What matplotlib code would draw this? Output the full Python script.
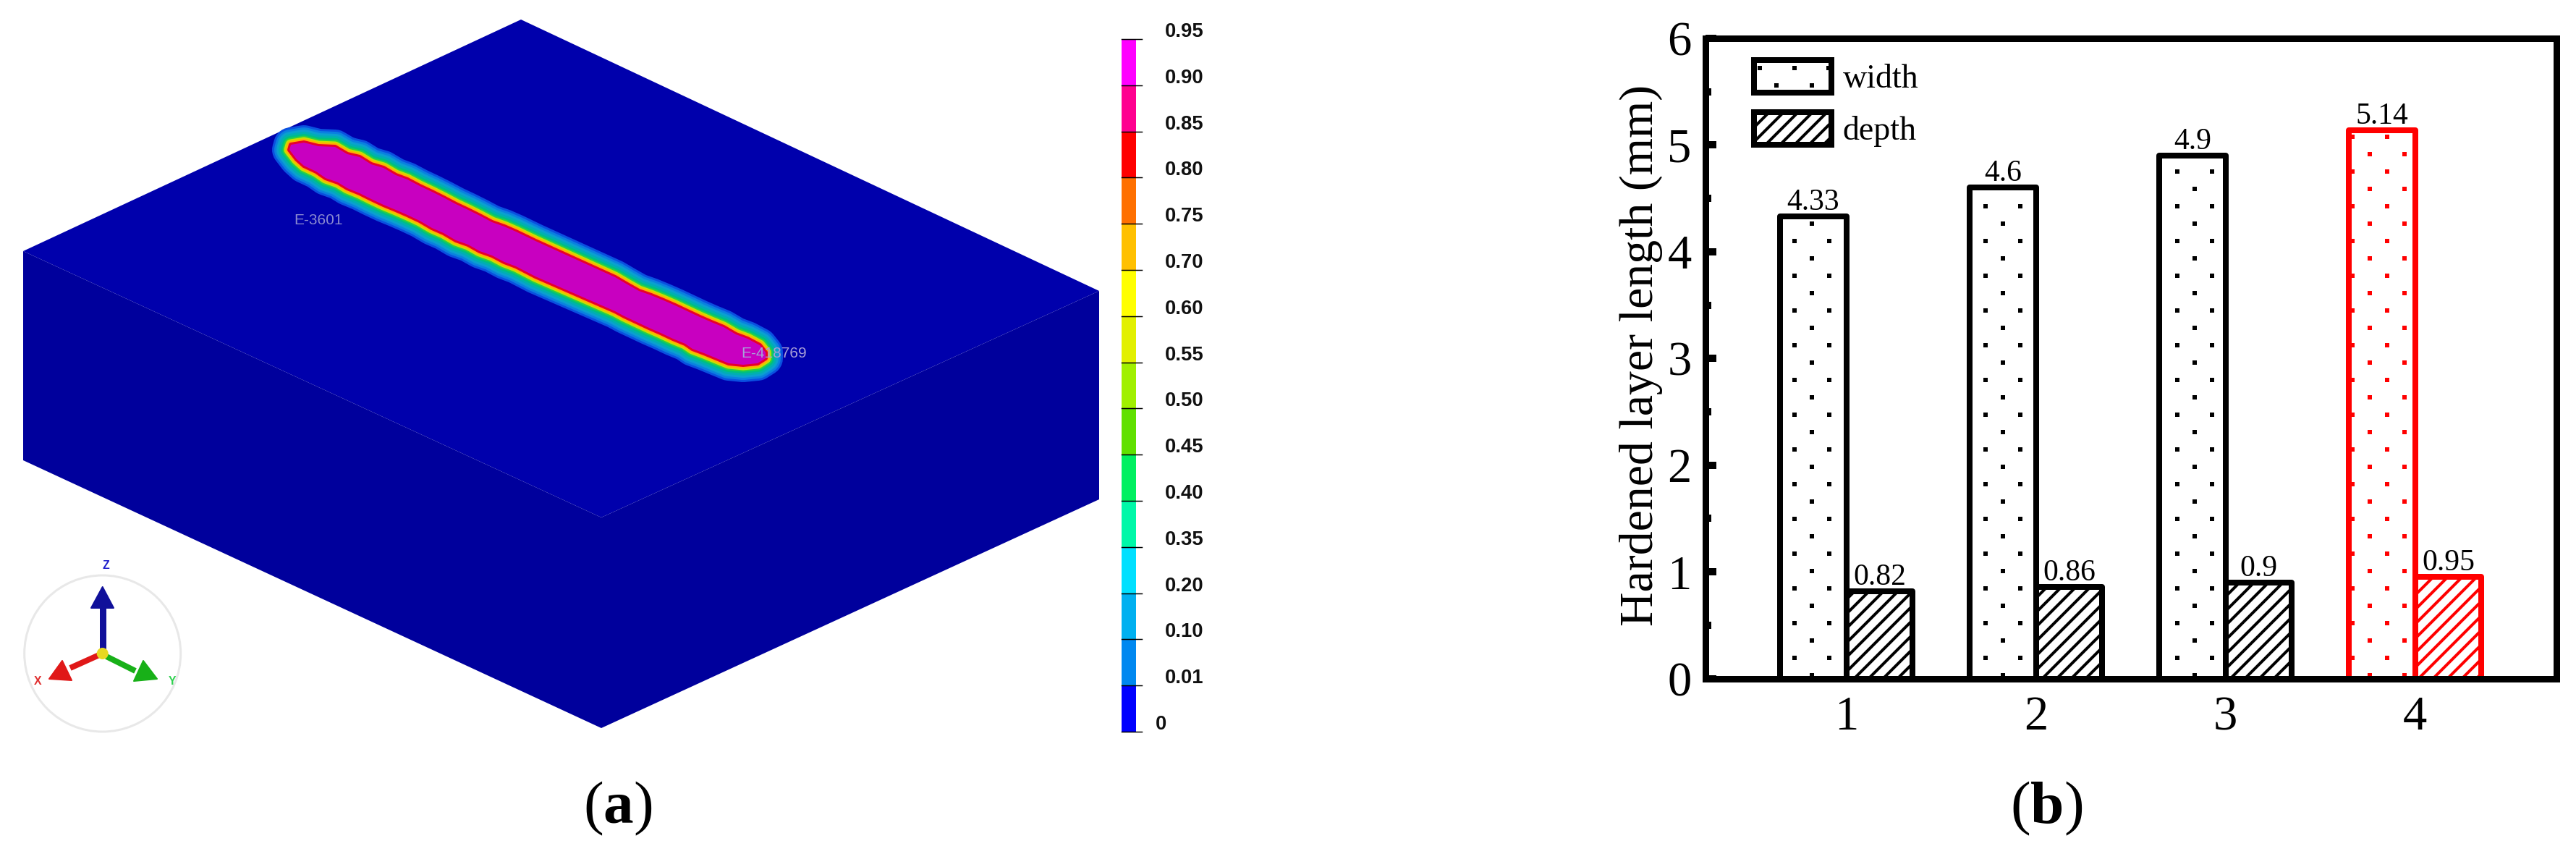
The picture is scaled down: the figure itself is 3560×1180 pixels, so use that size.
import matplotlib
matplotlib.use("Agg")
import matplotlib.pyplot as plt
import numpy as np
from matplotlib.patches import Patch, Polygon, Circle

DPI = 120
W, H = 3560, 1180
PT = 72.0 / DPI  # one pixel in points

plt.rcParams['font.family'] = ['Liberation Serif', 'DejaVu Serif']
plt.rcParams['mathtext.fontset'] = 'custom'
plt.rcParams['mathtext.rm'] = 'Liberation Serif'
plt.rcParams['mathtext.bf'] = 'Liberation Serif:bold'
plt.rcParams['hatch.linewidth'] = 4 * PT

# panel b data
groups = [1, 2, 3, 4]
width_vals = [4.33, 4.6, 4.9, 5.14]
depth_vals = [0.82, 0.86, 0.9, 0.95]
width_text = ['4.33', '4.6', '4.9', '5.14']
depth_text = ['0.82', '0.86', '0.9', '0.95']
bar_colors = ['black', 'black', 'black', '#ff0000']

# panel a data: contour legend, top to bottom
contour_labels = ['0.95', '0.90', '0.85', '0.80', '0.75', '0.70', '0.60', '0.55',
                  '0.50', '0.45', '0.40', '0.35', '0.20', '0.10', '0.01', '0']
contour_colors = ['#ff00ff', '#ff0090', '#ff0000', '#ff7000', '#ffc000', '#ffff00',
                  '#e2f000', '#a0f000', '#60e000', '#00f060', '#00f8a8', '#00e0ff',
                  '#00b0f0', '#0088f0', '#0000ff']

# block faces, picture pixels
top_face = [(720, 27), (32, 347), (831, 715), (1519, 402)]
left_face = [(32, 347), (831, 715), (831, 1006), (32, 636)]
right_face = [(831, 715), (1519, 402), (1519, 690), (831, 1006)]

# hardened track outline
track_upper = [(402, 200), (420, 197), (440, 202), (463, 203), (480, 213), (497, 217),
               (513, 227), (530, 232), (547, 242), (563, 248), (580, 257), (597, 265),
               (613, 273), (630, 282), (647, 290), (663, 298), (680, 307), (697, 313),
               (713, 320), (740, 333), (850, 383), (867, 393), (883, 402), (900, 408),
               (917, 415), (933, 422), (950, 430), (967, 438), (983, 445), (1000, 452),
               (1017, 462), (1033, 468), (1050, 477)]
track_tip = [(1058, 487), (1058, 495), (1047, 502), (1027, 504), (1007, 502)]
track_lower = [(990, 495), (973, 488), (957, 482), (947, 475), (930, 468), (913, 460),
               (897, 453), (880, 445), (863, 437), (850, 430), (740, 382), (713, 368),
               (697, 362), (680, 353), (663, 347), (647, 338), (630, 332), (613, 322),
               (597, 315), (580, 305), (563, 297), (547, 290), (530, 283), (513, 275),
               (497, 267), (480, 260), (467, 252), (450, 246), (437, 237), (420, 229),
               (410, 220), (400, 207)]
track_bands = [24, 21, 18, 15, 12, 9.5, 7.5, 5.5, 3]
band_colors = ['#0a50e0', '#0a80e0', '#0aa0d0', '#00b0b0', '#00c080', '#30d040',
               '#c8e000', '#ffb000', '#e8002a']

# axis triad
triad_center = (141.7, 903)
z_shaft = [(141.7, 897), (141.7, 840)]
z_head = [(141.7, 811), (126, 840), (157, 840)]
x_shaft = [(137, 905), (97, 923)]
x_head = [(68, 938), (86, 913), (99, 940)]
y_shaft = [(147, 907), (187, 927)]
y_head = [(217, 938), (198, 913), (185, 941)]


def to_x(px):
    return 1 + (px - 2551.7) / 262.0


def to_y(py):
    return (937.5 - py) / 147.4


fig = plt.figure(figsize=(W / DPI, H / DPI), dpi=DPI, facecolor='white')

# ---- panel a ----
a = fig.add_axes([0, 0, 1, 1], zorder=1)
a.set_xlim(0, W)
a.set_ylim(H, 0)
a.axis('off')

a.add_patch(Polygon(top_face, fc='#0000ac', ec='none'))
a.add_patch(Polygon(left_face, fc='#00009c', ec='none'))
a.add_patch(Polygon(right_face, fc='#00009c', ec='none'))

track = track_upper + track_tip + track_lower
for off, c in zip(track_bands, band_colors):
    a.add_patch(Polygon(track, fc=c, ec=c, lw=2 * off * PT, joinstyle='round'))
a.add_patch(Polygon(track, fc='#c800c0', ec='none'))

a.text(440, 305, 'E-3601', color='#8a8ad0', fontsize=12.5, family='Liberation Sans',
       ha='center', va='center')
a.text(1070, 488, 'E-418769', color='#a8a0d8', fontsize=12.5, family='Liberation Sans',
       ha='center', va='center')

# contour legend
cb_top, cb_bot = 54, 1011
cb_y = np.linspace(cb_top, cb_bot, len(contour_labels))
for i, c in enumerate(contour_colors):
    a.fill_between([1550, 1570], cb_y[i], cb_y[i + 1], color=c, lw=0)
for y, lab in zip(cb_y, contour_labels):
    a.plot([1550, 1578], [y, y], color='black', lw=1.5 * PT)
    a.text(1597 if lab == '0' else 1610, y - 10, lab, family='Liberation Sans',
           fontweight='bold', fontsize=16.5, ha='left', va='center', color='#111111')

# triad
a.add_patch(Circle(triad_center, 108, fc='none', ec='#e8e8e8', lw=3 * PT))
for shaft, head, c, lw in [(z_shaft, z_head, '#10109a', 9), (x_shaft, x_head, '#e01818', 8),
                           (y_shaft, y_head, '#18b018', 8)]:
    a.plot(*zip(*shaft), color=c, lw=lw * PT, solid_capstyle='butt')
    a.add_patch(Polygon(head, fc=c, ec=c, lw=2 * PT, joinstyle='round'))
a.add_patch(Circle(triad_center, 8, fc='#e8d820', ec='none', zorder=5))
a.text(146, 781, 'Z', color='#2222cc', fontsize=9.5, fontweight='bold',
       family='Liberation Sans', ha='center', va='center')
a.text(52, 942, 'X', color='#e03030', fontsize=9.5, fontweight='bold',
       family='Liberation Sans', ha='center', va='center')
a.text(238, 942, 'Y', color='#30d050', fontsize=9.5, fontweight='bold',
       family='Liberation Sans', ha='center', va='center')

a.text(854, 1117, r'($\mathbf{a}$)', fontsize=50, ha='center', va='center')
a.text(2828, 1117, r'($\mathbf{b}$)', fontsize=50, ha='center', va='center')

# ---- panel b ----
ax = fig.add_axes([2356.5 / W, 1 - 937.5 / H, (3533 - 2356.5) / W, (937.5 - 53) / H],
                  zorder=2, facecolor='none')
bw = 0.35
x = np.array(groups)
for i in range(4):
    ax.bar(x[i] - bw / 2, width_vals[i], bw, fc='none', ec=bar_colors[i], lw=8 * PT,
           joinstyle='round', zorder=2)
    ax.bar(x[i] + bw / 2, depth_vals[i], bw, fc='none', ec=bar_colors[i], hatch='//',
           lw=8 * PT, joinstyle='round', zorder=2)
    ax.annotate(width_text[i], (x[i] - bw / 2, width_vals[i]), xytext=(0, 9 * PT),
                textcoords='offset points', ha='center', va='baseline', fontsize=25)
    ax.annotate(depth_text[i], (x[i] + bw / 2, depth_vals[i]), xytext=(0, 9 * PT),
                textcoords='offset points', ha='center', va='baseline', fontsize=25)

# dot fill of the width bars, each bar has its own phase
dot_shift = [-2, 0, 3, 7]
dot_swap = [0, 0, 0, 1]
for i in range(4):
    c = x[i] - bw / 2 + dot_shift[i] / 262.0
    dx, dy = 24 / 262.0, 24 / 147.4
    xs, ys = [], []
    k = 0
    while 0.03 + k * dy < width_vals[i] - 0.02:
        y = 0.03 + k * dy
        if (k + dot_swap[i]) % 2 == 0:
            cols = [c - 2 * dx, c, c + 2 * dx]
        else:
            cols = [c - dx, c + dx]
        xs += cols
        ys += [y] * len(cols)
        k += 1
    xs, ys = np.array(xs), np.array(ys)
    keep = np.abs(xs - (x[i] - bw / 2)) <= bw / 2 + 0.005
    ax.scatter(xs[keep], ys[keep], marker='s', s=(6 * PT) ** 2, color=bar_colors[i],
               linewidths=0, zorder=1.5)

ax.set_xlim(to_x(2356.5), to_x(3533))
ax.set_ylim(0, 6)
ax.set_xticks(groups)
ax.set_yticks(range(7))
ax.set_yticks(np.arange(0.5, 6, 1), minor=True)
ax.tick_params(axis='x', length=0, pad=24 * PT, labelsize=40)
ax.tick_params(axis='y', which='major', direction='in', length=14.5 * PT, width=10 * PT,
               pad=19 * PT, labelsize=40)
ax.tick_params(axis='y', which='minor', direction='in', length=7.5 * PT, width=10 * PT)
for s in ax.spines.values():
    s.set_linewidth(9 * PT)
ax.set_ylabel('Hardened layer length (mm)', fontsize=39.5)
ax.yaxis.set_label_coords((2298 - 2356.5) / (3533 - 2356.5), 0.505)

handles = [Patch(fc='none', ec='black', lw=8 * PT, joinstyle='round', label='width'),
           Patch(fc='none', ec='black', lw=8 * PT, hatch='//', joinstyle='round', label='depth')]
fs = 27.5
em = fs / PT
leg = ax.legend(handles=handles, loc='upper left', frameon=False, fontsize=fs,
                bbox_to_anchor=((2424 - 2356.5) / (3533 - 2356.5), (937.5 - 83) / 884.5),
                borderaxespad=0, borderpad=0, handlelength=106.7 / em,
                handleheight=52 / em, labelspacing=24 / em, handletextpad=16 / em)
leg.set_zorder(7)

# dots in the legend key
key_x = [2431.7, 2479.7, 2526.7, 2455.3, 2503.7]
key_y = [94, 94, 94, 118, 118]
ax.scatter([to_x(p) for p in key_x], [to_y(p) for p in key_y], marker='s',
           s=(6 * PT) ** 2, color='black', linewidths=0, zorder=6)

fig.savefig('out.png', dpi=DPI)
